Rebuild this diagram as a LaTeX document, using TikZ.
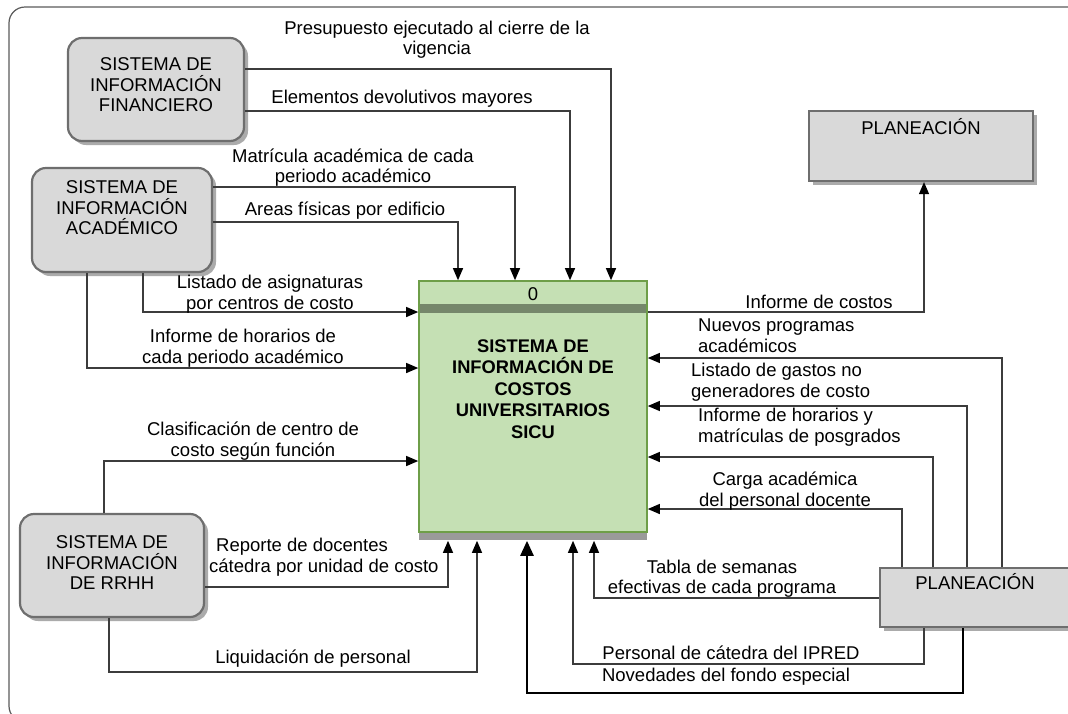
\documentclass[tikz,border=0pt]{standalone}
\usepackage{fontspec}
\setmainfont{Liberation Sans}
\usetikzlibrary{arrows.meta,calc}
\definecolor{boxfill}{HTML}{D9D9D9}
\definecolor{boxdraw}{HTML}{6E6E6E}
\definecolor{shadowc}{HTML}{ABABAB}
\definecolor{sicufill}{HTML}{C5E0B4}
\definecolor{sicudraw}{HTML}{6E9E48}
\definecolor{bandc}{HTML}{76876B}
\definecolor{linec}{HTML}{3C3C3C}
\definecolor{borderc}{HTML}{5A5A5A}
\begin{document}
\begin{tikzpicture}[x=1pt,y=-1pt,
  lbl/.style={font=\fontsize{18.5}{20.5}\selectfont, align=center, inner sep=0pt},
  lbll/.style={font=\fontsize{18.5}{21}\selectfont, align=left, inner sep=0pt, anchor=west},
  boldlbl/.style={font=\bfseries\fontsize{18.3}{21.5}\selectfont, align=center, inner sep=0pt},
  extrnd/.style={draw=boxdraw, line width=2.2pt, fill=boxfill, rounded corners=14pt, inner sep=0pt,
    preaction={fill=shadowc, transform canvas={xshift=4pt,yshift=-4pt}}},
  extrect/.style={draw=boxdraw, line width=2.2pt, fill=boxfill, inner sep=0pt,
    preaction={fill=shadowc, transform canvas={xshift=4pt,yshift=-4pt}}},
  procbox/.style={draw=sicudraw, line width=1.6pt, fill=sicufill, inner sep=0pt,
    preaction={fill=shadowc!90!black, transform canvas={yshift=-8pt}}},
  flow/.style={draw=linec, line width=1.2pt, -{Triangle[length=12pt,width=10pt,fill=black,color=black]}},
  thickflow/.style={draw=black, line width=2.6pt, -{Triangle[length=15pt,width=13pt]}}
]
\useasboundingbox (0,0) rectangle (1068,713);
\begin{scope}
\clip (0,0) rectangle (1068,713);
\draw[draw=borderc, line width=1.2pt, rounded corners=16pt] (9,7) rectangle (1085,722);
\end{scope}

% ---- boxes
\node[extrnd, minimum width=176pt, minimum height=103pt] (fin) at (156,89.5) {};
\node[extrnd, minimum width=180pt, minimum height=104pt] (aca) at (122,220) {};
\node[extrnd, minimum width=184pt, minimum height=103pt] (rrhh) at (112,565.5) {};
\node[extrect, minimum width=224pt, minimum height=70pt] (plana) at (921,146) {};
\node[extrect, minimum width=190pt, minimum height=59pt] (planb) at (975,597.5) {};
\node[procbox, minimum width=228pt, minimum height=251pt] (sicu) at (533,406.5) {};
\fill[bandc] (419.8,304) rectangle (646.2,313);

% ---- box texts
\node[lbl] (tfin) at (156,85) {SISTEMA DE\\INFORMACIÓN\\FINANCIERO};
\node[lbl] (taca) at (122,208) {SISTEMA DE\\INFORMACIÓN\\ACADÉMICO};
\node[lbl] (trrhh) at (112,563) {SISTEMA DE\\INFORMACIÓN\\DE RRHH};
\node[lbl] (tplana) at (921,127) {PLANEACIÓN};
\node[lbl] (tplanb) at (975,582) {PLANEACIÓN};
\node[lbl] (tzero) at (533,294) {0};
\node[boldlbl] (tsicu) at (533,389) {SISTEMA DE\\INFORMACIÓN DE\\COSTOS\\UNIVERSITARIOS\\SICU};

% ---- helper coordinates
\coordinate (sb) at ($(sicu.south)+(0,8)$);
\coordinate (yPres) at (0,69);   \coordinate (xPres) at (611,0);
\coordinate (yElem) at (0,111);  \coordinate (xElem) at (570,0);
\coordinate (yMatr) at (0,187);  \coordinate (xMatr) at (515,0);
\coordinate (yArea) at (0,222);  \coordinate (xArea) at (458,0);
\coordinate (xList) at (143,0);  \coordinate (yList) at (0,312);
\coordinate (xInfH) at (87,0);   \coordinate (yInfH) at (0,368);
\coordinate (xClas) at (104,0);  \coordinate (yClas) at (0,461);
\coordinate (yRep) at (0,587);   \coordinate (xRep) at (448,0);
\coordinate (xLiq) at (109,0);   \coordinate (yLiq) at (0,672);  \coordinate (xLiqE) at (477,0);
\coordinate (yCost) at (0,312);  \coordinate (xCost) at (924,0);
\coordinate (xNuev) at (1002,0); \coordinate (yNuev) at (0,358);
\coordinate (xGast) at (967,0);  \coordinate (yGast) at (0,406);
\coordinate (xHor) at (933,0);   \coordinate (yHor) at (0,457);
\coordinate (xCarg) at (902,0);  \coordinate (yCarg) at (0,509);
\coordinate (yTab) at (0,598);   \coordinate (xTab) at (594,0);
\coordinate (xPers) at (924,0);  \coordinate (yPers) at (0,664); \coordinate (xPersE) at (573,0);
\coordinate (xNov) at (963,0);   \coordinate (yNov) at (0,693);  \coordinate (xNovE) at (527,0);

% ---- connectors
\draw[flow] (fin.east |- yPres) -| (xPres |- sicu.north);
\draw[flow] (fin.east |- yElem) -| (xElem |- sicu.north);
\draw[flow] (aca.east |- yMatr) -| (xMatr |- sicu.north);
\draw[flow] (aca.east |- yArea) -| (xArea |- sicu.north);
\draw[flow] (xList |- aca.south) |- (sicu.west |- yList);
\draw[flow] (xInfH |- aca.south) |- (sicu.west |- yInfH);
\draw[flow] (xClas |- rrhh.north) |- (sicu.west |- yClas);
\draw[flow] (rrhh.east |- yRep) -| (xRep |- sb);
\draw[flow] (xLiq |- rrhh.south) |- (xLiqE |- yLiq) -- (xLiqE |- sb);
\draw[flow] (sicu.east |- yCost) -| (xCost |- plana.south);
\draw[flow] (xNuev |- planb.north) |- (sicu.east |- yNuev);
\draw[flow] (xGast |- planb.north) |- (sicu.east |- yGast);
\draw[flow] (xHor |- planb.north) |- (sicu.east |- yHor);
\draw[flow] (xCarg |- planb.north) |- (sicu.east |- yCarg);
\draw[flow] (planb.west |- yTab) -| (xTab |- sb);
\draw[flow] (xPers |- planb.south) |- (xPersE |- yPers) -- (xPersE |- sb);
\draw[thickflow] (xNov |- planb.south) |- (xNovE |- yNov) -- (xNovE |- sb);

% ---- connector labels
\node[lbl] (lpres) at (437,39.5) {Presupuesto ejecutado al cierre de la\\vigencia};
\node[lbl] (lelem) at (402,99) {Elementos devolutivos mayores};
\node[lbl] (lmatr) at (353,167.5) {Matrícula académica de cada\\periodo académico};
\node[lbl] (larea) at (345,211) {Areas físicas por edificio};
\node[lbl] (llist) at (270,294) {Listado de asignaturas\\por centros de costo};
\node[lbl] (linfh) at (243,348) {Informe de horarios de\\cada periodo académico};
\node[lbl] (lclas) at (253,441) {Clasificación de centro de\\costo según función};
\node[lbll] (lrep) at (209,557) {\hspace*{7pt}Reporte de docentes\\cátedra por unidad de costo};
\node[lbl] (lliq) at (313,659) {Liquidación de personal};
\node[lbl] (lcost) at (819,302) {Informe de costos};
\node[lbll] (lnuev) at (698,336) {Nuevos programas\\académicos};
\node[lbll] (lgast) at (691,382.5) {Listado de gastos no\\generadores de costo};
\node[lbll] (lhor) at (698,427.5) {Informe de horarios y\\matrículas de posgrados};
\node[lbl] (lcarg) at (785,491) {Carga académica\\del personal docente};
\node[lbl] (ltab) at (722,578.5) {Tabla de semanas\\efectivas de cada programa};
\node[lbl] (lpers) at (731,653) {Personal de cátedra del IPRED};
\node[lbl] (lnov) at (726,677) {Novedades del fondo especial};
\end{tikzpicture}
\end{document}
